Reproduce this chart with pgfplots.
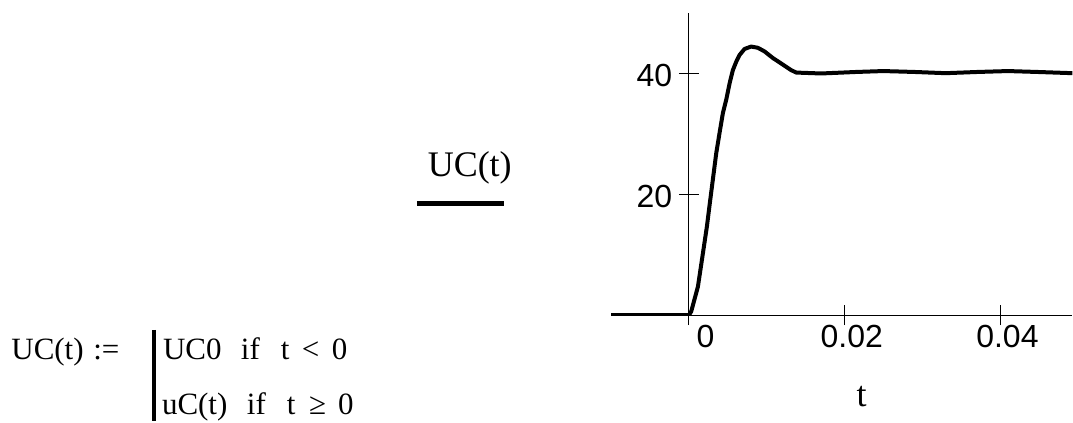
\documentclass[border=0pt]{standalone}
\usepackage{fontspec}
\setmainfont{Liberation Serif}
\setsansfont{Liberation Sans}
\usepackage{pgfplots}
\pgfplotsset{compat=1.18}

\begin{document}
\begin{tikzpicture}
% scope units: 1 unit = 1 px of the reference (0.5pt), from the bottom left
\begin{scope}[x=0.5pt,y=0.5pt]
\useasboundingbox (0,0) rectangle (1073,421);
\end{scope}

\begin{axis}[
    at={(305.7pt,52.85pt)}, anchor=south west,
    scale only axis,
    width=230.8pt, height=151.3pt,
    xmin=-0.01, xmax=0.04929,
    ymin=0, ymax=50,
    axis lines=middle,
    axis line style={-, line width=0.6pt},
    hide obscured x ticks=false,
    hide obscured y ticks=false,
    scaled ticks=false,
    xtick={0,0.02,0.04},
    xticklabels={{\hspace*{9.4pt}0},0.02,0.04},
    ytick={20,40},
    yticklabels={20,40},
    tick align=center,
    major tick length=10pt,
    tick style={black, line width=0.6pt},
    /pgf/number format/assume math mode=true,
    ticklabel style={font=\sffamily\fontsize{16}{16}\selectfont},
    xticklabel style={anchor=north, inner sep=0pt, yshift=0pt, xshift=3.65pt},
    yticklabel style={anchor=east, inner sep=0pt, xshift=-3.15pt, yshift=-1pt},
]
\addplot[black, line width=2pt, line join=round] coordinates {
    (-0.01,0) (0,0)
    (0.0003,0.6) (0.00116,4.7) (0.0018,10.2) (0.00231,14.6)
    (0.00275,19.1) (0.00308,22.4) (0.00352,26.8) (0.00394,30.1)
    (0.00437,33.4) (0.0048,35.6) (0.00523,38.3) (0.00565,40.5)
    (0.00609,41.9) (0.00651,43.0) (0.00715,44.0) (0.0080,44.4)
    (0.00886,44.2) (0.00972,43.6) (0.0108,42.5) (0.0121,41.4)
    (0.01315,40.5) (0.0138,40.1)
    (0.0170,39.95) (0.0215,40.2) (0.0250,40.35) (0.0290,40.2)
    (0.0330,40.0) (0.0371,40.2) (0.0410,40.35) (0.0448,40.2)
    (0.04929,40.0)
};
\end{axis}

\begin{scope}[x=0.5pt,y=0.5pt]
% axis title and legend
\node[anchor=base, inner sep=0pt, font=\fontsize{18}{18}\selectfont] at (862,14) {t};
\node[anchor=base, inner sep=0pt, font=\fontsize{18}{18}\selectfont] at (470,244) {UC(t)};
\draw[line width=2.4pt] (417,217.5) -- (504,217.5);

% definition of UC(t)
\begin{scope}[every node/.style={anchor=base west, inner sep=0pt, font=\fontsize{15.5}{15.5}\selectfont}]
\node at (11,61) {UC(t)};
\node at (93,61) {:=};
\draw[line width=1.8pt] (154,91) -- (154,0);
\node at (162.7,61) {UC0};
\node at (240.7,61) {if};
\node at (280.7,61) {t};
\node at (301.7,61) {<};
\node at (331.7,61) {0};
\node at (161.7,6) {uC(t)};
\node at (246.7,6) {if};
\node at (286.7,6) {t};
\node at (309,6) {≥};
\node at (338,6) {0};
\end{scope}
\end{scope}
\end{tikzpicture}
\end{document}
